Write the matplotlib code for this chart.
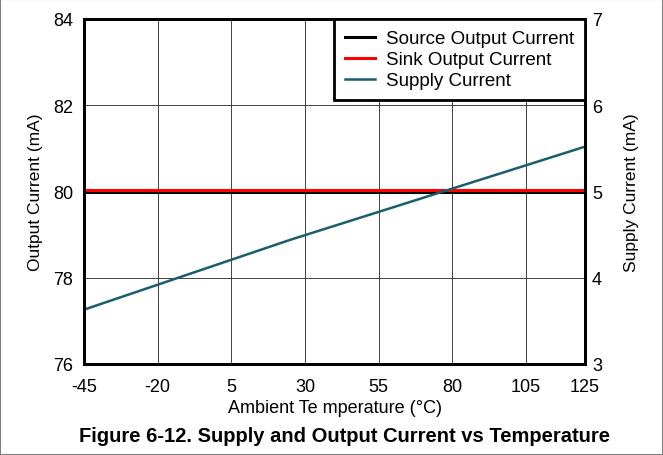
import matplotlib
matplotlib.use("Agg")
import matplotlib.pyplot as plt
from matplotlib.patches import Rectangle

plt.rcParams['font.family'] = ['Liberation Sans', 'DejaVu Sans']
plt.rcParams['axes.unicode_minus'] = False

# temperatures (degC) where values were read
temp = [-45, 25, 125]
source_ma = [79.99, 79.99, 79.99]
sink_ma = [80.03, 80.03, 80.03]
supply_ma = [3.63, 4.44, 5.52]

xticks = [-45, -20, 5, 30, 55, 80, 105, 125]
left_ticks = [76, 78, 80, 82, 84]
right_ticks = [3, 4, 5, 6, 7]

fig = plt.figure(figsize=(6.63, 4.56), dpi=100)
ax = fig.add_axes([84 / 663, 1 - 365 / 456, 501 / 663, 345 / 456])
ax2 = ax.twinx()

l1, = ax.plot(temp, source_ma, color='black', lw=2.2, label='Source Output Current')
l2, = ax.plot(temp, sink_ma, color='red', lw=2.2, label='Sink Output Current')
l3, = ax2.plot(temp, supply_ma, color='#1a5e6e', lw=1.8, label='Supply Current')

ax.set_xlim(-45, 125)
ax.set_ylim(76, 84)
ax2.set_ylim(3, 7)
ax.set_xticks(xticks)
ax.set_yticks(left_ticks)
ax2.set_yticks(right_ticks)
ax.grid(True, color='#222222', lw=0.6)
ax.tick_params(axis='x', length=0, labelsize=13, pad=10)
ax.tick_params(axis='y', length=0, labelsize=13, pad=8)
ax2.tick_params(length=0, labelsize=13, pad=5)
for a in (ax, ax2):
    for s in a.spines.values():
        s.set_linewidth(2)

ax.set_ylabel('Output Current (mA)', fontsize=12.5, labelpad=7)
ax2.set_ylabel('Supply Current (mA)', fontsize=12.5, labelpad=16)
ax.set_xlabel('Ambient Te mperature (°C)', fontsize=13, labelpad=3)

leg = ax2.legend(handles=[l1, l2, l3], loc='upper right', fontsize=13.5,
                 frameon=True, fancybox=False, borderaxespad=0,
                 handlelength=1.6, handletextpad=0.55, labelspacing=0.2,
                 borderpad=0.6, framealpha=1)
leg.get_frame().set_edgecolor('black')
leg.get_frame().set_linewidth(2)

fig.text(344 / 663, 1 - 437 / 456, 'Figure 6-12. Supply and Output Current vs Temperature',
         ha='center', va='center', fontsize=14.5, fontweight='bold')

fig.patches.append(Rectangle((0, 0), 1, 1, transform=fig.transFigure, fill=False,
                             edgecolor='#808080', lw=1.5))

fig.savefig('out.png', dpi=100)
